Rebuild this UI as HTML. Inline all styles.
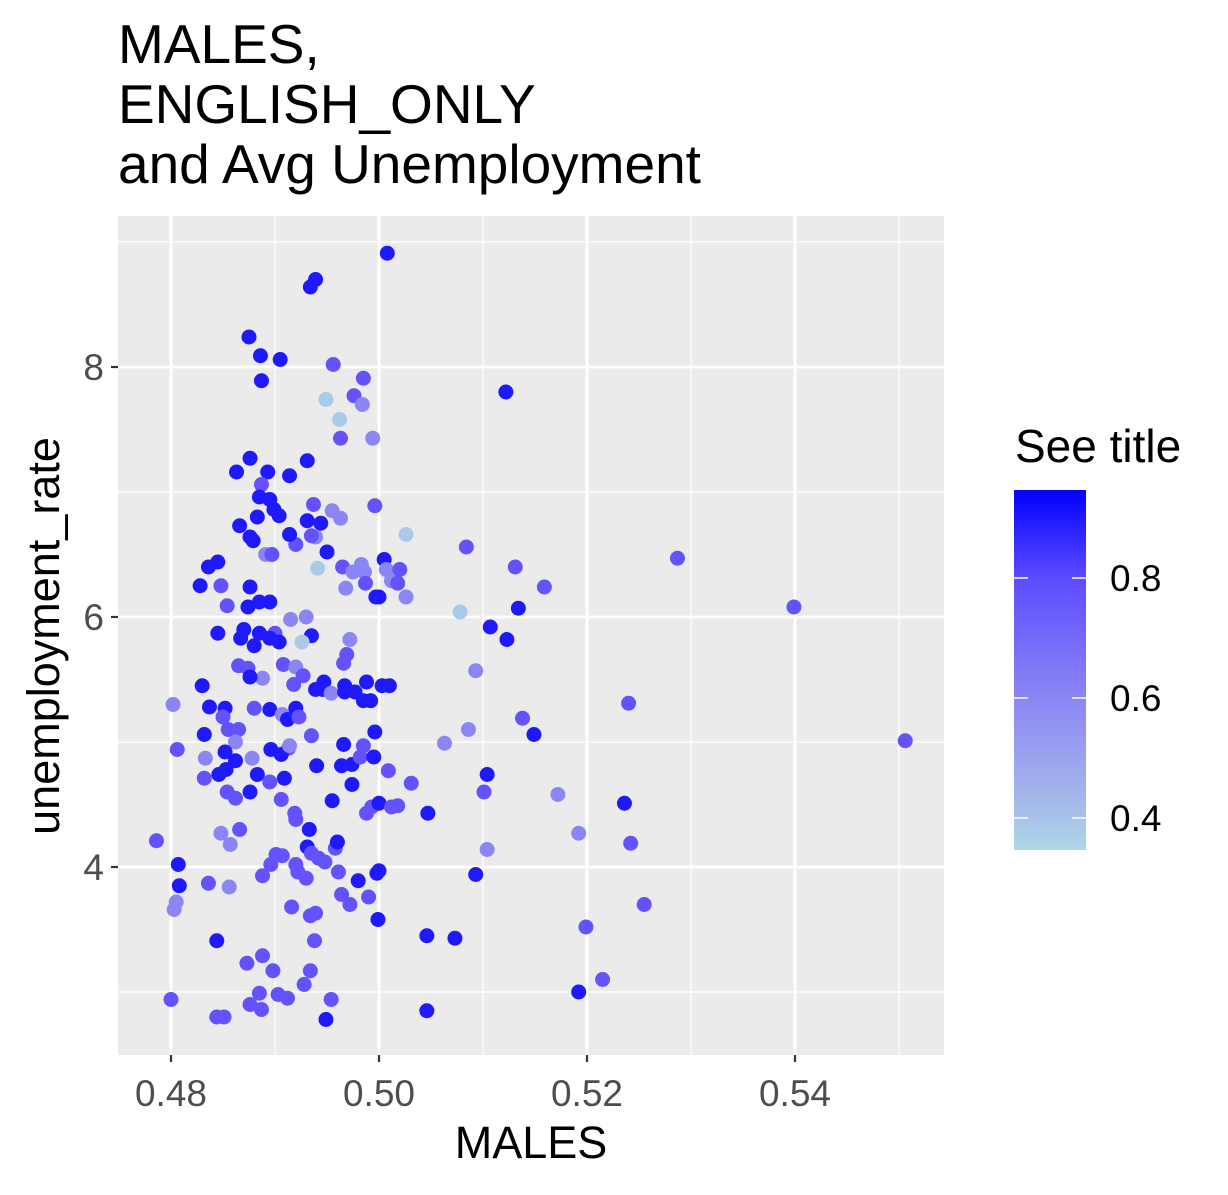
<!DOCTYPE html>
<html><head><meta charset="utf-8"><style>
body{margin:0;background:#fff;}
svg text{font-family:"Liberation Sans",Arial,sans-serif;}
</style></head><body>
<svg id="chart" width="1228" height="1190" xmlns="http://www.w3.org/2000/svg">
<defs><linearGradient id="lg" x1="0" y1="1" x2="0" y2="0">
<stop offset="0" stop-color="#ADD8E6"/><stop offset="0.0867" stop-color="#A9C2E8"/><stop offset="0.42" stop-color="#8C86F4"/><stop offset="0.753" stop-color="#5E4CFF"/><stop offset="1" stop-color="#0000FF"/></linearGradient></defs>
<text x="118" y="63" font-size="55">MALES,</text>
<text x="118" y="123" font-size="55">ENGLISH_ONLY</text>
<text x="118" y="183" font-size="55">and Avg Unemployment</text>
<rect x="118" y="216" width="826" height="839" fill="#EBEBEB"/>
<g id="grid"></g><g id="pts"></g><g id="axes"></g>
<text x="531" y="1158" font-size="45" text-anchor="middle">MALES</text>
<text transform="translate(59,636) rotate(-90)" font-size="45" text-anchor="middle">unemployment_rate</text>
<text x="1015" y="462" font-size="46">See title</text>
<rect x="1014" y="490" width="72" height="360" fill="url(#lg)"/>
<g id="leg"></g>
</svg>
<script>
const xTicks=[0.48,0.50,0.52,0.54];
const xMinor=[0.49,0.51,0.53,0.55];
const yTicks=[4,6,8];
const yMinor=[3,5,7,9];
const legendTicks=[0.4,0.6,0.8];
const D=0.9,M=0.78,L=0.6,V=0.38;
const xs=[0.5008,0.4939,0.4934,0.4875,0.4886,0.4905,0.4887,0.4956,0.4985,0.4976,0.4984,0.4949,0.4962,0.4994,0.4963,0.5122,0.4876,0.4863,0.4893,0.4914,0.4931,0.4887,0.4885,0.4895,0.4899,0.4904,0.4883,0.4866,0.4876,0.4879,0.4937,0.4931,0.4944,0.4939,0.4920,0.4914,0.4935,0.4955,0.4963,0.4996,0.4950,0.5026,0.4891,0.4897,0.4845,0.4836,0.4828,0.4848,0.4876,0.4885,0.4895,0.4874,0.4854,0.4941,0.4965,0.4975,0.4983,0.4986,0.4968,0.4987,0.4997,0.5000,0.5005,0.5007,0.5012,0.5020,0.5018,0.5026,0.5084,0.5078,0.5131,0.5159,0.5134,0.5287,0.5399,0.4930,0.4915,0.4900,0.4885,0.4870,0.4867,0.4880,0.4895,0.4904,0.4935,0.4926,0.4845,0.4972,0.4969,0.4966,0.5107,0.5123,0.5093,0.4865,0.4874,0.4888,0.4876,0.4908,0.4920,0.4927,0.4918,0.4939,0.4946,0.4947,0.4954,0.4967,0.4967,0.4977,0.4988,0.4985,0.4992,0.5003,0.5010,0.4830,0.4802,0.4837,0.4852,0.4850,0.4855,0.4865,0.4880,0.4895,0.4907,0.4920,0.4912,0.4923,0.4832,0.4862,0.4852,0.4806,0.4833,0.4862,0.4878,0.4896,0.4913,0.4906,0.4914,0.4935,0.4996,0.4966,0.4974,0.4985,0.4982,0.4995,0.5009,0.4940,0.4964,0.4974,0.5063,0.5086,0.5138,0.5149,0.5240,0.5506,0.4832,0.4846,0.4853,0.4883,0.4895,0.4909,0.4854,0.4862,0.4876,0.4906,0.4919,0.4920,0.4931,0.4933,0.4955,0.4988,0.4993,0.5000,0.5012,0.5018,0.5031,0.5047,0.5104,0.5101,0.5172,0.5236,0.5192,0.5242,0.5104,0.5093,0.4786,0.4848,0.4857,0.4866,0.4807,0.4808,0.4805,0.4803,0.4836,0.4856,0.4888,0.4896,0.4901,0.4907,0.4920,0.4922,0.4930,0.4935,0.4942,0.4948,0.4958,0.4960,0.4961,0.4980,0.4998,0.5000,0.4964,0.4972,0.4990,0.4999,0.4916,0.4934,0.4939,0.5255,0.4844,0.4888,0.4873,0.4938,0.4934,0.4898,0.4928,0.4876,0.4885,0.4903,0.4912,0.4949,0.4954,0.4844,0.4851,0.4887,0.4800,0.5046,0.5073,0.5199,0.5215,0.5192,0.5046];
const ys=[8.91,8.70,8.64,8.24,8.09,8.06,7.89,8.02,7.91,7.77,7.70,7.74,7.58,7.43,7.43,7.80,7.27,7.16,7.16,7.13,7.25,7.06,6.96,6.94,6.86,6.81,6.80,6.73,6.64,6.61,6.90,6.77,6.75,6.64,6.58,6.66,6.65,6.85,6.79,6.89,6.52,6.66,6.50,6.50,6.44,6.40,6.25,6.25,6.24,6.12,6.12,6.08,6.09,6.39,6.40,6.36,6.42,6.36,6.23,6.27,6.16,6.16,6.46,6.38,6.29,6.38,6.27,6.16,6.56,6.04,6.40,6.24,6.07,6.47,6.08,6.00,5.98,5.87,5.87,5.90,5.83,5.77,5.83,5.80,5.85,5.80,5.87,5.82,5.70,5.63,5.92,5.82,5.57,5.61,5.59,5.51,5.52,5.62,5.60,5.53,5.46,5.42,5.42,5.48,5.39,5.45,5.40,5.40,5.48,5.33,5.33,5.45,5.45,5.45,5.30,5.28,5.27,5.20,5.10,5.10,5.27,5.26,5.22,5.27,5.18,5.20,5.06,5.00,4.92,4.94,4.87,4.85,4.87,4.94,4.95,4.90,4.97,5.05,5.08,4.98,4.82,4.97,4.88,4.88,4.77,4.81,4.81,4.66,4.99,5.10,5.19,5.06,5.31,5.01,4.71,4.74,4.78,4.74,4.68,4.71,4.60,4.55,4.60,4.54,4.43,4.38,4.16,4.30,4.53,4.43,4.48,4.51,4.48,4.49,4.67,4.43,4.74,4.60,4.58,4.51,4.27,4.19,4.14,3.94,4.21,4.27,4.18,4.30,4.02,3.85,3.72,3.66,3.87,3.84,3.93,4.02,4.10,4.09,4.02,3.96,3.91,4.11,4.07,4.04,4.15,4.20,3.96,3.89,3.95,3.97,3.78,3.70,3.76,3.58,3.68,3.61,3.63,3.70,3.41,3.29,3.23,3.41,3.17,3.17,3.06,2.90,2.99,2.98,2.95,2.78,2.94,2.80,2.80,2.86,2.94,3.45,3.43,3.52,3.10,3.00,2.85];
const cs=[D,D,D,D,D,D,D,M,M,M,L,V,V,L,M,D,D,D,D,D,D,M,D,D,D,D,D,D,D,D,M,D,D,L,M,D,M,L,L,M,D,V,L,M,D,D,D,M,D,D,D,D,M,V,M,L,L,L,L,M,D,D,D,L,L,M,M,L,M,V,M,M,D,M,M,L,L,M,D,D,D,D,D,D,D,V,D,L,M,M,D,D,L,M,M,L,D,M,L,M,M,D,D,D,L,D,D,D,D,D,D,D,D,D,L,D,D,M,M,M,M,D,L,D,D,M,D,L,D,M,L,D,L,D,M,D,L,M,D,D,D,M,M,D,M,D,D,D,L,L,M,D,M,M,M,D,D,D,M,D,M,M,D,M,M,M,D,D,D,M,M,D,M,M,M,D,D,M,L,D,L,M,L,D,M,L,L,M,D,D,L,L,M,L,M,M,M,M,M,M,M,M,M,M,M,D,M,D,D,D,M,M,M,D,M,M,M,M,D,M,M,M,M,M,M,M,M,M,M,D,M,M,M,M,M,D,D,M,M,D,D];
const NS='http://www.w3.org/2000/svg';
const X=v=>171+(v-0.48)*10400;
const Y=v=>367-(v-8)*125;
const LY=v=>578-(v-0.8)*600;
const stops=[[0.348,[173,216,230]],[0.4,[169,194,232]],[0.6,[140,134,244]],[0.8,[94,76,255]],[0.948,[0,0,255]]];
function col(v){v=Math.max(0.348,Math.min(0.948,v));for(let i=0;i<stops.length-1;i++){const a=stops[i],b=stops[i+1];if(v<=b[0]){const t=(v-a[0])/(b[0]-a[0]);return 'rgb('+a[1].map((c,k)=>Math.round(c+(b[1][k]-c)*t)).join(',')+')';}}return 'rgb(0,0,255)';}
function mk(tag,at,p){const e=document.createElementNS(NS,tag);for(const k in at)e.setAttribute(k,at[k]);p.appendChild(e);return e;}
const g=document.getElementById('grid');
xMinor.forEach(v=>{const l=mk('line',{x1:X(v),x2:X(v),y1:216,y2:1055,stroke:'#fff','stroke-width':1.3},g);

});
yMinor.forEach(v=>{const l=mk('line',{x1:118,x2:944,y1:Y(v),y2:Y(v),stroke:'#fff','stroke-width':1.3},g);

});
const ax=document.getElementById('axes');
xTicks.forEach(v=>{const l=mk('line',{x1:X(v),x2:X(v),y1:216,y2:1055,stroke:'#fff','stroke-width':2.7},g);


const t=mk('line',{x1:X(v),x2:X(v),y1:1055,y2:1062,stroke:'#333','stroke-width':2.2},ax);


const tx=mk('text',{x:X(v),y:1106,'font-size':37,fill:'#4D4D4D','text-anchor':'middle'},ax);tx.textContent=v.toFixed(2);

});
yTicks.forEach(v=>{const l=mk('line',{x1:118,x2:944,y1:Y(v),y2:Y(v),stroke:'#fff','stroke-width':2.7},g);


const t=mk('line',{x1:111,x2:118,y1:Y(v),y2:Y(v),stroke:'#333','stroke-width':2.2},ax);


const tx=mk('text',{x:104,y:Y(v)+13,'font-size':37,fill:'#4D4D4D','text-anchor':'end'},ax);tx.textContent=v;

});
const pg=document.getElementById('pts');
xs.forEach((x,i)=>{const c=mk('circle',{cx:X(x),cy:Y(ys[i]),r:7.5,fill:col(cs[i])},pg);

});
const lg=document.getElementById('leg');
legendTicks.forEach(v=>{const y=LY(v);
const a=mk('line',{x1:1014,x2:1028,y1:y,y2:y,stroke:'#fff','stroke-width':1.5},lg);


const b=mk('line',{x1:1072,x2:1086,y1:y,y2:y,stroke:'#fff','stroke-width':1.5},lg);


const t=mk('text',{x:1110,y:y+13,'font-size':37,fill:'#000'},lg);t.textContent=v.toFixed(1);

});
</script>
</body></html>
